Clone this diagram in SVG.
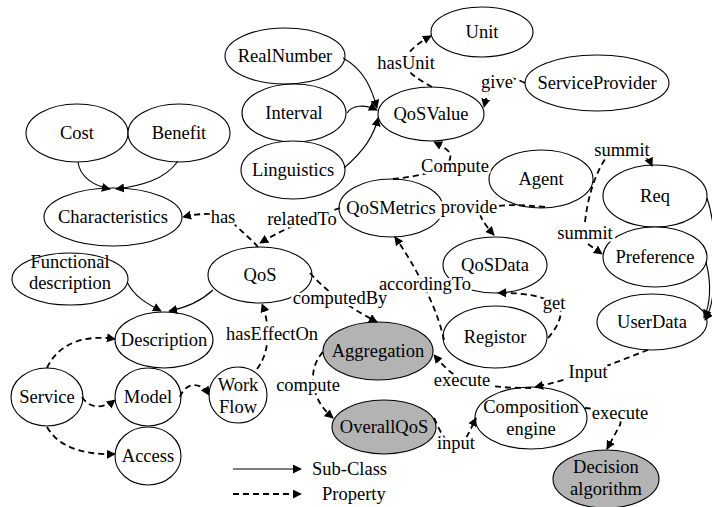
<svg xmlns="http://www.w3.org/2000/svg" width="712" height="507" viewBox="0 0 712 507">
<defs>
<marker id="ah" viewBox="0 0 10 10" refX="9" refY="5" markerWidth="9" markerHeight="9" markerUnits="userSpaceOnUse" orient="auto">
<path d="M0,0 L10,5 L0,10 Z" fill="#000"/>
</marker>
</defs>
<style>
text{font-family:"Liberation Serif","Times New Roman",serif;font-size:18.5px;fill:#000;text-anchor:middle}
.n ellipse{fill:#fff;stroke:#000;stroke-width:1.1}
.g ellipse{fill:#b3b3b3}
.s{fill:none;stroke:#000;stroke-width:1.1}
.d{fill:none;stroke:#000;stroke-width:1.8;stroke-dasharray:6,4}
.a{marker-end:url(#ah)}
.lb{stroke:#fff;stroke-width:5;paint-order:stroke;stroke-linejoin:round}
</style>
<rect width="712" height="507" fill="#fff"/>

<g id="Unit" class="n"><ellipse cx="482" cy="32" rx="51" ry="25"/><text x="482" y="38">Unit</text></g>
<g id="ServiceProvider" class="n"><ellipse cx="597" cy="83" rx="72" ry="28"/><text x="597" y="89">ServiceProvider</text></g>
<g id="QoSValue" class="n"><ellipse cx="431" cy="114" rx="53" ry="27"/><text x="431" y="120">QoSValue</text></g>
<g id="RealNumber" class="n"><ellipse cx="285" cy="56" rx="60" ry="28"/><text x="285" y="62">RealNumber</text></g>
<g id="Interval" class="n"><ellipse cx="294" cy="113" rx="52" ry="29"/><text x="294" y="119">Interval</text></g>
<g id="Linguistics" class="n"><ellipse cx="293" cy="170" rx="52" ry="29"/><text x="293" y="176">Linguistics</text></g>
<g id="Cost" class="n"><ellipse cx="77" cy="133" rx="51" ry="29"/><text x="77" y="139">Cost</text></g>
<g id="Benefit" class="n"><ellipse cx="179" cy="133" rx="51" ry="29"/><text x="179" y="139">Benefit</text></g>
<g id="Characteristics" class="n"><ellipse cx="113" cy="217" rx="69" ry="29"/><text x="113" y="223">Characteristics</text></g>
<g id="FunctionalDescription" class="n"><ellipse cx="70" cy="279" rx="58" ry="26"/><text x="70" y="268">Functional</text><text x="70" y="289">description</text></g>
<g id="QoS" class="n"><ellipse cx="260" cy="275" rx="52" ry="28"/><text x="260" y="281">QoS</text></g>
<g id="Description" class="n"><ellipse cx="164" cy="340" rx="49" ry="28"/><text x="164" y="346">Description</text></g>
<g id="Service" class="n"><ellipse cx="47" cy="397" rx="36" ry="29"/><text x="47" y="403">Service</text></g>
<g id="Model" class="n"><ellipse cx="148" cy="397" rx="33" ry="29"/><text x="148" y="403">Model</text></g>
<g id="Access" class="n"><ellipse cx="148" cy="456" rx="33" ry="29"/><text x="148" y="462">Access</text></g>
<g id="WorkFlow" class="n"><ellipse cx="238" cy="395" rx="29" ry="28"/><text x="238" y="391">Work</text><text x="238" y="413">Flow</text></g>
<g id="QoSMetrics" class="n"><ellipse cx="391" cy="208" rx="52" ry="29"/><text x="391" y="214">QoSMetrics</text></g>
<g id="Aggregation" class="n g"><ellipse cx="378" cy="351" rx="55" ry="29"/><text x="378" y="357">Aggregation</text></g>
<g id="OverallQoS" class="n g"><ellipse cx="384" cy="427" rx="52" ry="27"/><text x="384" y="433">OverallQoS</text></g>
<g id="QoSData" class="n"><ellipse cx="495" cy="265" rx="52" ry="28"/><text x="495" y="271">QoSData</text></g>
<g id="Registor" class="n"><ellipse cx="495" cy="337" rx="52" ry="31"/><text x="495" y="343">Registor</text></g>
<g id="Agent" class="n"><ellipse cx="541" cy="179" rx="52" ry="29"/><text x="541" y="185">Agent</text></g>
<g id="Req" class="n"><ellipse cx="655" cy="196" rx="52" ry="31"/><text x="655" y="202">Req</text></g>
<g id="Preference" class="n"><ellipse cx="655" cy="257" rx="52" ry="30"/><text x="655" y="263">Preference</text></g>
<g id="UserData" class="n"><ellipse cx="652" cy="322" rx="55" ry="28"/><text x="652" y="328">UserData</text></g>
<g id="CompositionEngine" class="n"><ellipse cx="531" cy="418" rx="56" ry="31"/><text x="531" y="413">Composition</text><text x="531" y="435">engine</text></g>
<g id="DecisionAlgorithm" class="n g"><ellipse cx="606" cy="479" rx="53" ry="29"/><text x="606" y="473">Decision</text><text x="606" y="495">algorithm</text></g>

<g id="connectors">
<path class="s a" d="M78,162 C80,178 95,186 110,189"/>
<path class="s a" d="M178,161 C165,180 140,186 116,189"/>
<path class="s a" d="M343,58 C365,70 372,90 377,108"/>
<path class="s a" d="M347,113 C352,105 365,104 377,110"/>
<path class="s a" d="M344,168 C365,150 374,135 378,118"/>
<path class="s a" d="M127,282 C135,298 150,305 161,311"/>
<path class="s a" d="M213,290 C200,302 185,308 169,311"/>
<path class="s a" d="M707,198 C718,230 718,300 705,320"/>
<path class="s a" d="M706,262 C712,285 710,305 704,318"/>
<path class="d a" d="M432,87 C420,80 405,72 405,63 C405,52 420,42 431,36"/>
<path class="d a" d="M525,83 C515,78 505,75 495,82 C488,90 486,98 484,107"/>
<path class="d a" d="M393,179 C420,176 455,170 450,153 C446,148 440,145 434,142"/>
<path class="d a" d="M545,207 C520,205 500,203 480,210 C478,215 485,225 494,235"/>
<path class="d a" d="M585,222 C588,195 596,170 610,152 C625,148 645,150 652,166"/>
<path class="d a" d="M588,244 L602,254"/>
<path class="d a" d="M258,247 C250,238 240,230 230,220 C220,212 200,213 183,217"/>
<path class="d a" d="M340,208 C320,215 290,225 260,243"/>
<path class="d a" d="M310,273 C325,290 345,305 377,322"/>
<path class="d a" d="M444,340 C440,320 425,280 395,237"/>
<path class="d a" d="M548,338 C555,330 560,322 561,312 C560,300 530,292 498,293"/>
<path class="d a" d="M323,352 C310,365 306,395 333,418"/>
<path class="d a" d="M47,368 C60,340 90,335 115,339"/>
<path class="d a" d="M82,397 C90,410 105,408 115,400"/>
<path class="d a" d="M47,427 C60,450 90,455 115,454"/>
<path class="d a" d="M180,397 C185,383 200,380 209,395"/>
<path class="d a" d="M257,369 C268,355 272,330 262,304"/>
<path class="d a" d="M434,418 C440,430 445,445 456,445 C465,445 470,430 476,418"/>
<path class="d a" d="M648,350 C620,360 590,375 535,387"/>
<path class="d a" d="M531,388 C510,388 490,387 470,382 C455,378 445,368 434,355"/>
<path class="d a" d="M585,408 C600,410 625,410 620,425 L607,449"/>
</g>

<g id="labels">
<text class="lb" x="406" y="69">hasUnit</text>
<text class="lb" x="497" y="88">give</text>
<text class="lb" x="455" y="172">Compute</text>
<text class="lb" x="469" y="213">provide</text>
<text class="lb" x="622" y="156">summit</text>
<text class="lb" x="585" y="239">summit</text>
<text class="lb" x="223" y="223">has</text>
<text class="lb" x="302" y="225">relatedTo</text>
<text class="lb" x="340" y="304">computedBy</text>
<text class="lb" x="425" y="290">accordingTo</text>
<text class="lb" x="272" y="340">hasEffectOn</text>
<text class="lb" x="308" y="391">compute</text>
<text class="lb" x="554" y="309">get</text>
<text class="lb" x="462" y="386">execute</text>
<text class="lb" x="588" y="378">Input</text>
<text class="lb" x="620" y="419">execute</text>
<text class="lb" x="456" y="449">input</text>
</g>

<g id="legend">
<path class="s a" d="M233,469 L301,469"/>
<path class="d a" d="M233,494 L301,494"/>
<text x="312" y="475" style="text-anchor:start">Sub-Class</text>
<text x="322" y="500" style="text-anchor:start">Property</text>
</g>
</svg>
